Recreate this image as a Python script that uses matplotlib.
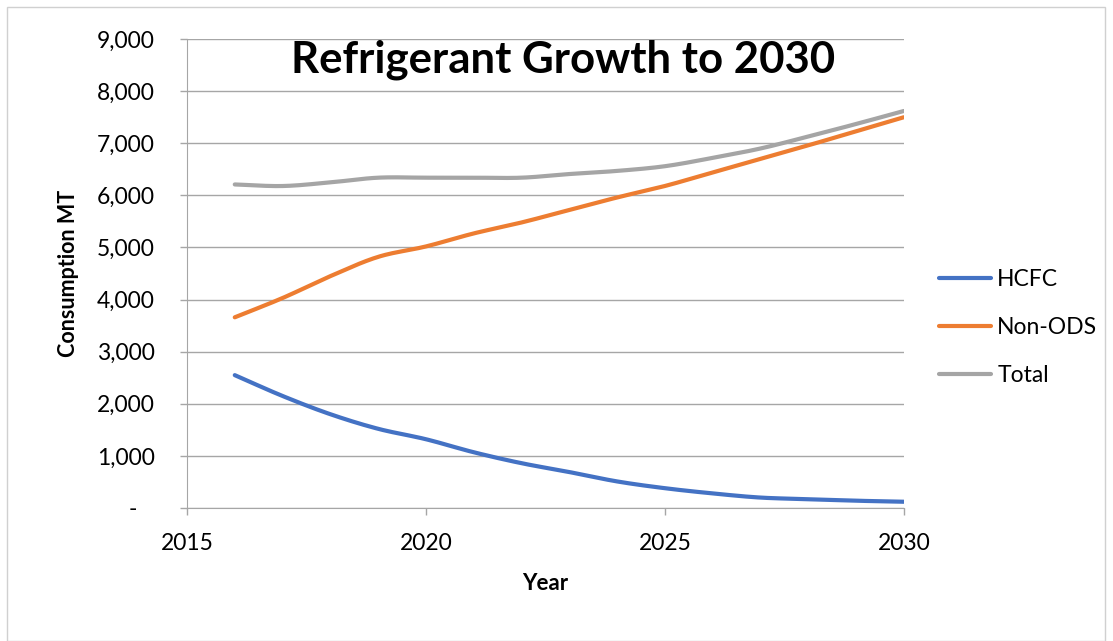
import numpy as np
import matplotlib
matplotlib.use("Agg")
import matplotlib.pyplot as plt
from matplotlib.patches import Rectangle
from matplotlib.ticker import FuncFormatter

plt.rcParams['font.family'] = ['Lato', 'DejaVu Sans']

# data
years = [2016, 2017, 2018, 2019, 2020, 2021, 2022, 2023, 2024, 2025, 2026, 2027, 2028, 2029, 2030]
hcfc = [2550, 2150, 1800, 1520, 1320, 1070, 860, 690, 510, 380, 280, 200, 170, 140, 120]
non_ods = [3660, 4030, 4450, 4820, 5020, 5270, 5480, 5720, 5960, 6180, 6440, 6700, 6960, 7230, 7500]
total = [6210, 6180, 6250, 6340, 6340, 6340, 6340, 6410, 6470, 6560, 6720, 6900, 7130, 7370, 7620]
series_names = ['HCFC', 'Non-ODS', 'Total']
colors = ['#4472C4', '#ED7D31', '#A5A5A5']


def smooth(x, y, n=20):
    # catmull-rom curve through the points, like Excel's smoothed line
    x = np.asarray(x, float)
    y = np.asarray(y, float)
    px = np.concatenate([[2 * x[0] - x[1]], x, [2 * x[-1] - x[-2]]])
    py = np.concatenate([[2 * y[0] - y[1]], y, [2 * y[-1] - y[-2]]])
    xs, ys = [], []
    t = np.linspace(0, 1, n, endpoint=False)
    for i in range(1, len(px) - 2):
        for p, out in ((px, xs), (py, ys)):
            p0, p1, p2, p3 = p[i - 1], p[i], p[i + 1], p[i + 2]
            out.extend(0.5 * (2 * p1 + (-p0 + p2) * t + (2 * p0 - 5 * p1 + 4 * p2 - p3) * t ** 2
                              + (-p0 + 3 * p1 - 3 * p2 + p3) * t ** 3))
    xs.append(x[-1])
    ys.append(y[-1])
    return xs, ys


fig = plt.figure(figsize=(11.13, 6.41), dpi=100)
ax = fig.add_axes([0.168, 0.2075, 0.644, 0.7315])

for name, vals, c in zip(series_names, [hcfc, non_ods, total], colors):
    sx, sy = smooth(years, vals)
    ax.plot(sx, sy, color=c, lw=3, label=name, solid_capstyle='round')

ax.set_xlim(2015, 2030)
ax.set_ylim(0, 9000)
ax.set_xticks([2015, 2020, 2025, 2030])
ax.set_yticks(range(0, 9001, 1000))
ax.yaxis.set_major_formatter(FuncFormatter(lambda v, p: '-   ' if v == 0 else f'{int(v):,}'))
ax.grid(axis='y', color='#a6a6a6', lw=1)
ax.set_axisbelow(True)
for s in ['top', 'right']:
    ax.spines[s].set_visible(False)
for s in ['left', 'bottom']:
    ax.spines[s].set_color('#a6a6a6')
ax.tick_params(axis='both', colors='#a6a6a6', labelcolor='black', labelsize=16.5, length=5, width=1)
ax.tick_params(axis='y', pad=18)
ax.tick_params(axis='x', pad=13)

ax.set_xlabel('Year', fontsize=16, fontweight='bold', labelpad=14)
ax.set_ylabel('Consumption MT', fontsize=15.5, fontweight='bold', labelpad=13)
ax.text(0.525, 0.955, 'Refrigerant Growth to 2030', transform=ax.transAxes, ha='center', va='center',
        fontsize=31.5, fontweight='bold')

leg = ax.legend(loc='center left', bbox_to_anchor=(1.02, 0.385), frameon=False, fontsize=16.5,
                handlelength=2.3, labelspacing=1.17, handletextpad=0.25)

fig.patches.append(Rectangle((7 / 1113, 0), 1098 / 1113, 634 / 641, transform=fig.transFigure,
                             fill=False, edgecolor='#d0d0d0', lw=1))

fig.savefig('out.png', dpi=100)
